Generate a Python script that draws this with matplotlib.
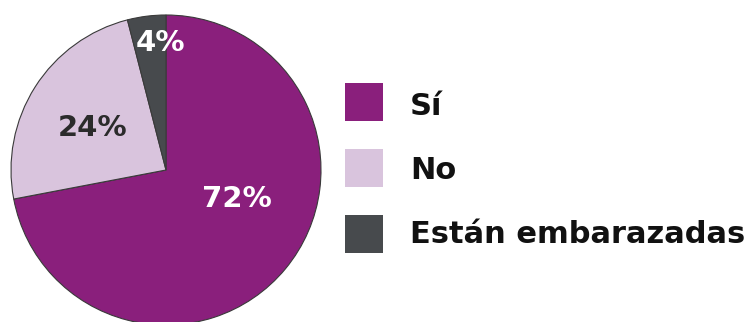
import matplotlib.pyplot as plt
from matplotlib.patches import Rectangle

# survey answers
categories = ["Sí", "No", "Están embarazadas"]
values = [72, 24, 4]
colors = ["#8a1f7c", "#d9c4dd", "#474a4d"]
label_colors = ["white", "#2b2b2b", "white"]
# label centres as offsets from the pie centre, in pixels
label_offsets = [(71, -29), (-73, 42), (-6, 127)]

plt.rcParams['font.family'] = ['DejaVu Sans']

fig = plt.figure(figsize=(7.55, 3.22), dpi=100)
ax = fig.add_axes([0, 0, 1, 1])

cx, cy, r = 166, 152, 155
ax.pie(values, colors=colors, startangle=90, counterclock=False,
       center=(cx, cy), radius=r, frame=True,
       wedgeprops=dict(edgecolor='#3a3a3a', linewidth=0.8))
ax.set_xlim(0, 755)
ax.set_ylim(0, 322)
ax.set_aspect('equal')
ax.axis('off')

for v, (dx, dy), c in zip(values, label_offsets, label_colors):
    ax.text(cx + dx, cy + dy, f"{v}%", color=c, fontsize=21,
            fontweight='bold', ha='center', va='center')

# legend drawn by hand: swatch + label
swatch_bottoms = [201, 135, 69]
baselines = [207, 143, 79]
for name, col, yb, yt in zip(categories, colors, swatch_bottoms, baselines):
    ax.add_patch(Rectangle((345, yb), 38, 38, facecolor=col,
                           edgecolor='none'))
    ax.text(410, yt, name, fontsize=22, fontweight='bold', color='#111111',
            ha='left', va='baseline')

fig.savefig("out.png", dpi=100)
